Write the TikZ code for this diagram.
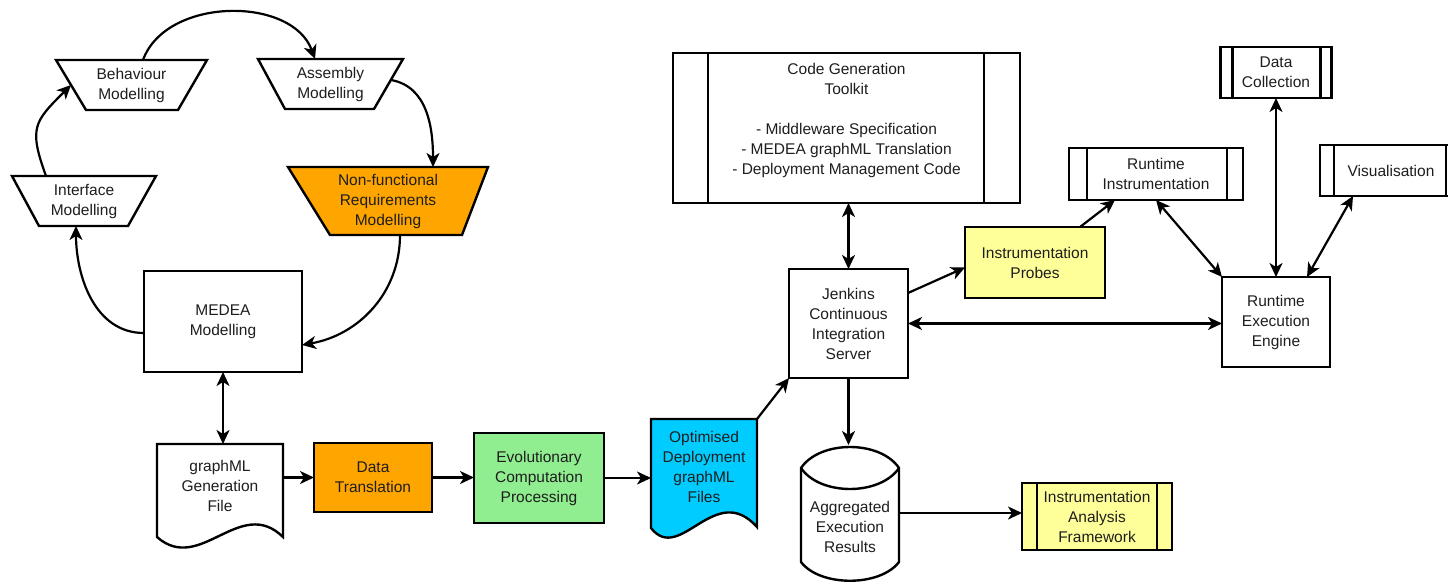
\documentclass[tikz,border=0pt]{standalone}
\usepackage{fontspec}
\setmainfont{Liberation Sans}
\usetikzlibrary{arrows.meta,calc}
\pgfdeclarelayer{bg}
\pgfsetlayers{bg,main}
\definecolor{orng}{RGB}{255,165,0}
\definecolor{grn}{RGB}{144,238,144}
\definecolor{cyn}{RGB}{0,204,255}
\definecolor{ylw}{RGB}{255,255,153}
\definecolor{ink}{RGB}{30,30,30}

\begin{document}
\begin{tikzpicture}[x=1pt,y=-1pt,
  lbl/.style={inner sep=0pt, outer sep=0pt, align=center, text=ink,
              font=\fontsize{15.5}{20}\selectfont},
  blk/.style={lbl, draw, line width=2.4pt},
  border/.style={line width=2.4pt, line join=miter},
  wire/.style={line width=2.2pt},
  oneway/.style={-{Stealth[length=14pt,width=13pt,inset=4pt]}},
  twoway/.style={{Stealth[length=14pt,width=13pt,inset=4pt]}-{Stealth[length=14pt,width=13pt,inset=4pt]}}
]
\useasboundingbox (0,0) rectangle (1448,583);

% ---------- modelling loop ----------
\node[lbl, minimum width=151pt, minimum height=50pt] (beh) at (131.5,85) {Behaviour\\Modelling};
\node[lbl, minimum width=145pt, minimum height=50pt] (asm) at (330.5,84) {Assembly\\Modelling};
\node[lbl, minimum width=144pt, minimum height=50pt] (itf) at (84,201) {Interface\\Modelling};
\node[lbl, minimum width=200pt, minimum height=68pt] (nfr) at (388,201) {Non-functional\\Requirements\\Modelling};
\node[blk, fill=white, minimum width=158pt, minimum height=101pt] (med) at (223,321.5) {MEDEA\\Modelling};

% ---------- generation pipeline ----------
\node[lbl, minimum width=126pt, minimum height=84pt] (gml) at (220,486) {graphML\\Generation\\File};
\node[blk, fill=orng, minimum width=118pt, minimum height=69pt] (dt) at (373,477.5) {Data\\Translation};
\node[blk, fill=grn, minimum width=130pt, minimum height=90pt] (evo) at (539,478) {Evolutionary\\Computation\\Processing};
\node[lbl, minimum width=106pt, minimum height=95pt] (opt) at (704,466.5) {Optimised\\Deployment\\graphML\\Files};

% ---------- build and runtime ----------
\node[blk, fill=white, minimum width=347pt, minimum height=150pt,
      label={[lbl, yshift=7.5pt]center:{Code Generation\\Toolkit\\[20pt]- Middleware Specification\\- MEDEA graphML Translation\\- Deployment Management Code}}] (cgt) at (846.5,128) {};
\node[blk, fill=white, minimum width=119pt, minimum height=109pt] (jen) at (848.5,323.5) {Jenkins\\Continuous\\Integration\\Server};
\node[blk, fill=ylw, minimum width=140pt, minimum height=71pt] (prb) at (1035,262.5) {Instrumentation\\Probes};
\node[blk, fill=white, minimum width=174pt, minimum height=52pt] (ri) at (1156,174) {Runtime\\Instrumentation};
\node[blk, fill=white, minimum width=111pt, minimum height=51pt] (dc) at (1276,72.5) {Data\\Collection};
\node[blk, fill=white, minimum width=142pt, minimum height=51pt] (vis) at (1391,170.5) {Visualisation};
\node[blk, fill=white, minimum width=108pt, minimum height=90pt] (ree) at (1276,322) {Runtime\\Execution\\Engine};
\node[lbl, minimum width=98pt, minimum height=136pt,
      label={[lbl, yshift=-14pt]center:{Aggregated\\Execution\\Results}}] (agg) at (850,513) {};
\node[blk, fill=ylw, minimum width=150pt, minimum height=67pt] (iaf) at (1097,516.5) {Instrumentation\\Analysis\\Framework};

% inner bars of the predefined-process boxes
\foreach \n/\l/\r in {cgt/35/36, ri/18/16, dc/12/11, vis/14/16, iaf/15/15}{
  \draw[border] ($(\n.north west)+(\l,0)$) -- ($(\n.south west)+(\l,0)$);
  \draw[border] ($(\n.north east)+(-\r,0)$) -- ($(\n.south east)+(-\r,0)$);
}

% ---------- outlines behind the labels ----------
\begin{pgfonlayer}{bg}
  \fill[white] (0,0) rectangle (1448,583);
  \draw[border, fill=white] (beh.north west) -- (beh.north east)
     -- ($(beh.south east)+(-29,0)$) -- ($(beh.south west)+(30,0)$) -- cycle;
  \draw[border, fill=white] (asm.north west) -- (asm.north east)
     -- ($(asm.south east)+(-29,0)$) -- ($(asm.south west)+(27,0)$) -- cycle;
  \draw[border, fill=white] (itf.north west) -- (itf.north east)
     -- ($(itf.south east)+(-28,0)$) -- ($(itf.south west)+(27,0)$) -- cycle;
  \draw[border, fill=orng] (nfr.north west) -- (nfr.north east)
     -- ($(nfr.south east)+(-26,0)$) -- ($(nfr.south west)+(42,0)$) -- cycle;
  % documents with a wavy lower edge
  \draw[border, fill=white] ($(gml.south west)+(0,9)$) -- (gml.north west) -- (gml.north east)
     -- ($(gml.south east)+(0,9)$) .. controls +(-43,-42) and +(43,38) .. ($(gml.south west)+(0,9)$) -- cycle;
  \draw[border, fill=cyn] ($(opt.south west)+(0,14)$) -- (opt.north west) -- (opt.north east)
     -- ($(opt.south east)+(0,13)$) .. controls +(-42,-47) and +(29,37) .. ($(opt.south west)+(0,14)$) -- cycle;
  % stored-data drum
  \draw[border, fill=white, shift={(agg.center)}] (-49,-45) .. controls (-30,-73) and (30,-73) .. (49,-45)
     -- (49,49) .. controls (30,74) and (-30,74) .. (-49,49) -- cycle;
  \draw[border, shift={(agg.center)}] (-49,-45) .. controls (-30,-17) and (30,-17) .. (49,-45);
\end{pgfonlayer}

% ---------- connectors ----------
\draw[wire,oneway] ($(beh.north)+(11.5,0)$) to[out=70,in=110] ($(asm.north)+(-15.5,0)$);
\draw[wire,oneway] ($(asm.north east)+(-12,21)$) to[out=-10,in=90] ($(nfr.north)+(45,0)$);
\draw[wire,oneway] ($(nfr.south)+(12,0)$) to[out=-90,in=10] ($(med.east)+(0,23.5)$);
\draw[wire,oneway] ($(med.west)+(0,11.5)$) to[out=180,in=-90] ($(itf.south)+(-8,0)$);
\draw[wire,oneway] ($(itf.north west)+(34,0)$) to[out=110,in=-135,looseness=1.4] ($(beh.west)+(15,0)$);

\draw[wire,twoway] (med.south) -- (med.south |- gml.north);
\draw[wire,oneway] (gml.east |- dt.west) -- (dt.west);
\draw[wire,oneway] (dt.east) -- (dt.east -| evo.west);
\draw[wire,oneway] (evo.east) -- (evo.east -| opt.west);
\draw[wire,oneway] (opt.north east) -- (jen.south west);

\draw[wire,twoway] (jen.north |- cgt.south) -- (jen.north);
\draw[wire,twoway] (jen.east) -- (jen.east -| ree.west);
\draw[wire,oneway] ($(jen.north east)+(0,24)$) -- ($(prb.west)+(0,5)$);
\draw[wire,oneway] ($(prb.north)+(45,0)$) -- ($(ri.south)+(-41,0)$);
\draw[wire,twoway] (ri.south) -- (ree.north west);
\draw[wire,twoway] (dc.south) -- (dc.south |- ree.north);
\draw[wire,twoway] ($(vis.south west)+(33,0)$) -- ($(ree.north east)+(-23,0)$);

\draw[wire,oneway] (jen.south) -- (jen.south |- agg.north);
\draw[wire,oneway] (agg.east) -- (agg.east -| iaf.west);
\end{tikzpicture}
\end{document}
